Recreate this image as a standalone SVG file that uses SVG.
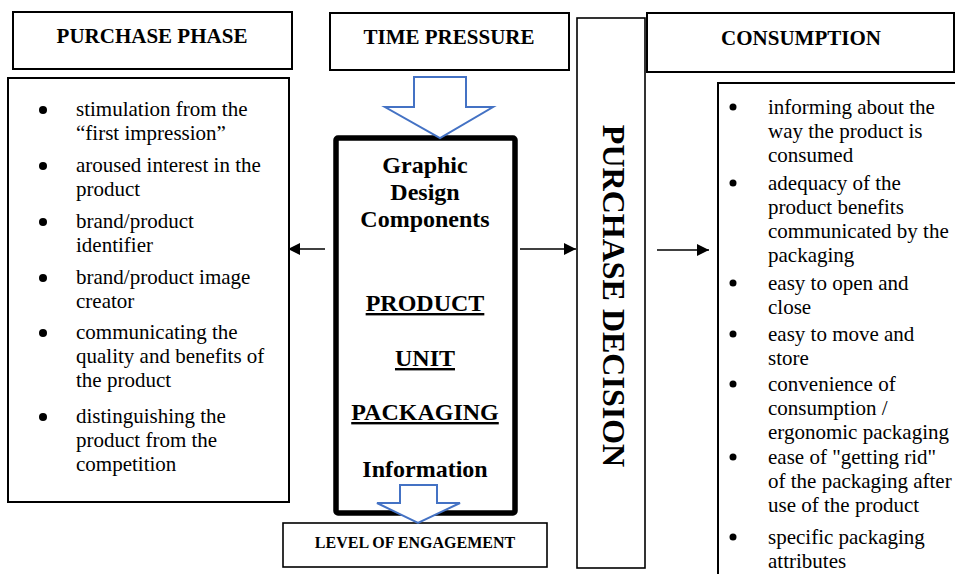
<svg xmlns="http://www.w3.org/2000/svg" width="955" height="574" viewBox="0 0 955 574">
  <style>
    .box { fill: #ffffff; stroke: #000000; stroke-width: 2; }
    .thin { fill: #ffffff; stroke: #000000; stroke-width: 1.6; }
    .core { fill: #ffffff; stroke: #000000; stroke-width: 5.5; }
    .blue { fill: #ffffff; stroke: #4472C4; stroke-width: 2; stroke-linejoin: miter; }
    .hd { font-family: "Liberation Serif", "Times New Roman", serif; font-weight: bold; font-size: 21px; fill: #000; text-anchor: middle; }
    .ctr { font-family: "Liberation Serif", "Times New Roman", serif; font-weight: bold; font-size: 24px; fill: #000; text-anchor: middle; }
    .ul { text-decoration: underline; }
    .li { font-family: "Liberation Serif", "Times New Roman", serif; font-size: 21px; fill: #000; }
    .dot { fill: #000; }
    .conn { stroke: #000; stroke-width: 1.6; fill: none; marker-end: url(#head); }
  </style>
  <defs>
    <marker id="head" viewBox="0 0 10 10" refX="10" refY="5" markerWidth="13" markerHeight="12" markerUnits="userSpaceOnUse" orient="auto">
      <path d="M0,0 L10,5 L0,10 Z" fill="#000"/>
    </marker>
  </defs>

  <!-- header: purchase phase -->
  <g id="purchase-phase">
    <rect class="box" x="13" y="12" width="279" height="57"/>
    <text class="hd" x="152" y="43">PURCHASE PHASE</text>
  </g>

  <!-- header: time pressure -->
  <g id="time-pressure">
    <rect class="box" x="330" y="13" width="239" height="57"/>
    <text class="hd" x="449" y="44">TIME PRESSURE</text>
  </g>

  <!-- header: consumption -->
  <g id="consumption">
    <rect class="box" x="647" y="13" width="307" height="59"/>
    <text class="hd" x="801" y="45">CONSUMPTION</text>
  </g>

  <!-- purchase phase attribute list -->
  <g id="purchase-list">
    <rect class="box" x="8" y="78" width="281" height="424"/>
    <circle class="dot" cx="43" cy="110" r="4"/>
    <circle class="dot" cx="43" cy="166" r="4"/>
    <circle class="dot" cx="43" cy="222" r="4"/>
    <circle class="dot" cx="43" cy="278" r="4"/>
    <circle class="dot" cx="43" cy="333" r="4"/>
    <circle class="dot" cx="43" cy="417" r="4"/>
    <text class="li">
      <tspan x="76" y="116">stimulation from the</tspan>
      <tspan x="76" y="140">“first impression”</tspan>
      <tspan x="76" y="172">aroused interest in the</tspan>
      <tspan x="76" y="196">product</tspan>
      <tspan x="76" y="228">brand/product</tspan>
      <tspan x="76" y="252">identifier</tspan>
      <tspan x="76" y="284">brand/product image</tspan>
      <tspan x="76" y="308">creator</tspan>
      <tspan x="76" y="339">communicating the</tspan>
      <tspan x="76" y="363">quality and benefits of</tspan>
      <tspan x="76" y="387">the product</tspan>
      <tspan x="76" y="423">distinguishing the</tspan>
      <tspan x="76" y="447">product from the</tspan>
      <tspan x="76" y="471">competition</tspan>
    </text>
  </g>

  <!-- central block: graphic design components -->
  <g id="design-components">
    <rect class="core" x="336" y="138" width="179" height="375" rx="2"/>
    <text class="ctr" x="425" y="173">Graphic</text>
    <text class="ctr" x="425" y="200">Design</text>
    <text class="ctr" x="425" y="227">Components</text>
    <text class="ctr ul" x="425" y="311">PRODUCT</text>
    <text class="ctr ul" x="425" y="366">UNIT</text>
    <text class="ctr ul" x="425" y="420">PACKAGING</text>
    <text class="ctr" x="425" y="477">Information</text>
  </g>

  <!-- block arrow: time pressure into the central block -->
  <g id="pressure-arrow">
    <path class="blue" d="M414,77 L466,77 L466,107 L493,107 L440,138 L385,107 L414,107 Z"/>
  </g>

  <!-- header: level of engagement -->
  <g id="level-of-engagement">
    <rect class="thin" x="283" y="523" width="264" height="44"/>
    <text class="hd" x="415" y="548" style="font-size:16px">LEVEL OF ENGAGEMENT</text>
  </g>

  <!-- block arrow: central block into engagement level -->
  <g id="engagement-arrow">
    <path class="blue" d="M400,485 L437,485 L437,503 L460,503 L418,523 L377,503 L400,503 Z"/>
  </g>

  <!-- vertical purchase decision bar -->
  <g id="purchase-decision">
    <rect class="thin" x="577" y="18" width="68" height="550"/>
    <text class="hd" transform="translate(603,296) rotate(90)" style="font-size:32px">PURCHASE DECISION</text>
  </g>

  <!-- consumption attribute list -->
  <g id="consumption-list">
    <rect class="box" x="718" y="83" width="245" height="500"/>
    <circle class="dot" cx="733" cy="107" r="3.5"/>
    <circle class="dot" cx="733" cy="183" r="3.5"/>
    <circle class="dot" cx="733" cy="283" r="3.5"/>
    <circle class="dot" cx="733" cy="334" r="3.5"/>
    <circle class="dot" cx="733" cy="384" r="3.5"/>
    <circle class="dot" cx="733" cy="457" r="3.5"/>
    <circle class="dot" cx="733" cy="537" r="3.5"/>
    <text class="li">
      <tspan x="768" y="114">informing about the</tspan>
      <tspan x="768" y="138">way the product is</tspan>
      <tspan x="768" y="162">consumed</tspan>
      <tspan x="768" y="190">adequacy of the</tspan>
      <tspan x="768" y="214">product benefits</tspan>
      <tspan x="768" y="238">communicated by the</tspan>
      <tspan x="768" y="262">packaging</tspan>
      <tspan x="768" y="290">easy to open and</tspan>
      <tspan x="768" y="314">close</tspan>
      <tspan x="768" y="341">easy to move and</tspan>
      <tspan x="768" y="365">store</tspan>
      <tspan x="768" y="391">convenience of</tspan>
      <tspan x="768" y="415">consumption /</tspan>
      <tspan x="768" y="439">ergonomic packaging</tspan>
      <tspan x="768" y="464">ease of "getting rid"</tspan>
      <tspan x="768" y="488">of the packaging after</tspan>
      <tspan x="768" y="512">use of the product</tspan>
      <tspan x="768" y="544">specific packaging</tspan>
      <tspan x="768" y="568">attributes</tspan>
    </text>
  </g>

  <!-- connectors -->
  <g id="connectors">
    <line class="conn" x1="325" y1="249" x2="288" y2="249"/>
    <line class="conn" x1="520" y1="249" x2="576" y2="249"/>
    <line class="conn" x1="657" y1="250" x2="709" y2="250"/>
  </g>
</svg>
